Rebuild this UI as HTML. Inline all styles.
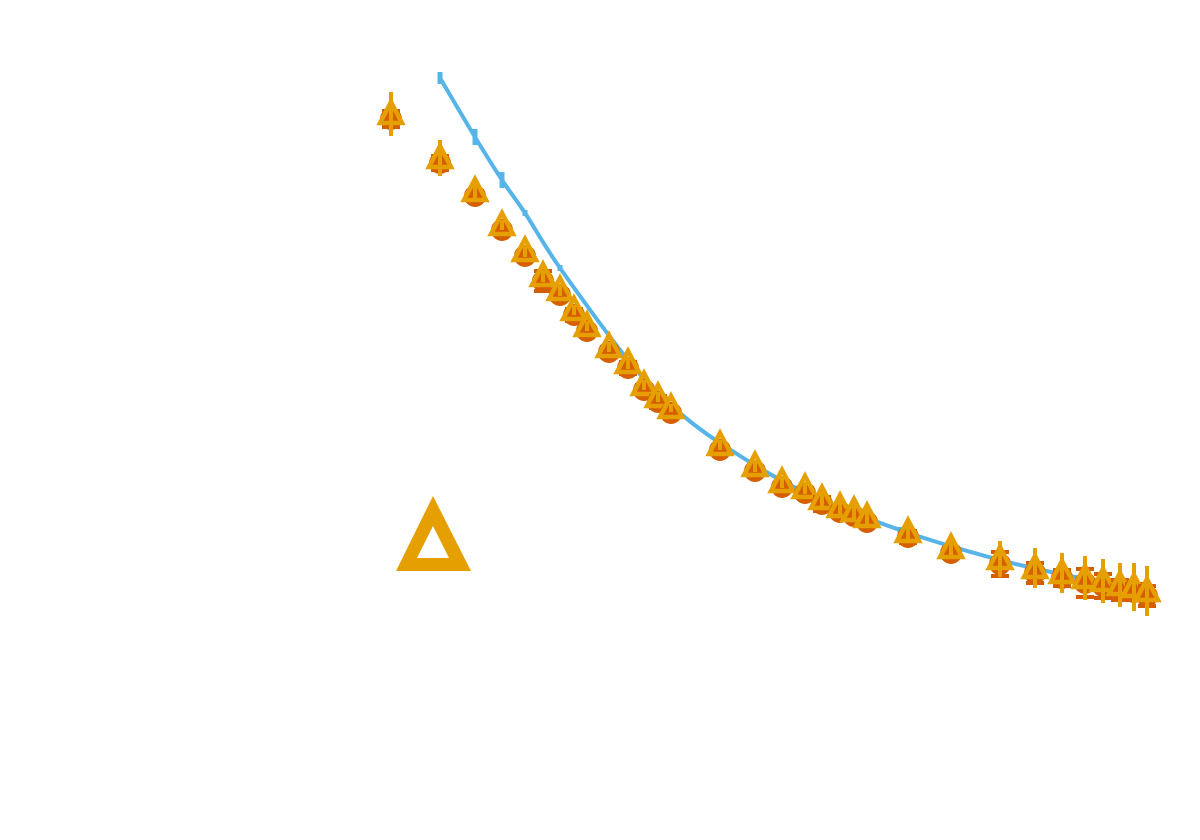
<!DOCTYPE html>
<html><head><meta charset="utf-8"><style>html,body{margin:0;padding:0;background:#fff;width:1200px;height:840px;overflow:hidden}</style></head>
<body>
<svg id="chart" width="1200" height="840" xmlns="http://www.w3.org/2000/svg">
<path fill="#e69f00" fill-rule="evenodd" d="M433,496 L471,571 L396,571 Z M433,526 L449,558 L417,558 Z"/>
</svg>
<script>
const xVals = [0,49,84,111,134,152,169,183,196,218,237,253,267,280,329,364,391,414,431,449,463,476,517,560,609,644,671,694,712,729,743,756];
const circleVals = [521,477,444,410,384,359,345,325,309,288,272,250,238,227,190,169,153,147,136,128,124,118,103,87,76,67,62,57,54,50,48,44];
const circleErr = [8,7,5,3,4,10,5,6,4,5,6,5,6,4,3,3,3,5,7,5,4,4,6,5,12,10,8,14,12,10,8,10];
const triErr = [22,18,8,5,6,6,6,5,5,5,6,5,5,4,5,6,6,6,8,9,8,7,7,10,18,20,20,22,22,22,24,25];
const lineX = [49,84,111,134,169,237,280,329,409,509,609,689,759];
const lineVals = [562,503,460,427,372,280,235,197,150,110,80,62,50];
const lineErr = [6,8,8,3,3,3,3,3,3,3,3,3,3];

const xs = v => 391 + v;
const ys = v => 640 - v;
const svg = document.getElementById('chart');
const NS = 'http://www.w3.org/2000/svg';
function mk(tag, attrs){const e=document.createElementNS(NS,tag);for(const k in attrs)e.setAttribute(k,attrs[k]);svg.appendChild(e);return e;}

// blue line (Catmull-Rom smoothed)
const P = lineX.map((x,i)=>[xs(x), ys(lineVals[i])]);
let d = 'M'+P[0][0]+','+P[0][1];
for(let i=0;i<P.length-1;i++){
  const p0=P[Math.max(i-1,0)], p1=P[i], p2=P[i+1], p3=P[Math.min(i+2,P.length-1)];
  const c1=[p1[0]+(p2[0]-p0[0])/6, p1[1]+(p2[1]-p0[1])/6];
  const c2=[p2[0]-(p3[0]-p1[0])/6, p2[1]-(p3[1]-p1[1])/6];
  d += ` C${c1[0]},${c1[1]} ${c2[0]},${c2[1]} ${p2[0]},${p2[1]}`;
}
const ln = mk('path',{d:d,fill:'none',stroke:'#56b4e9','stroke-width':4});


lineX.forEach((x,i)=>{
  const e = mk('line',{x1:xs(x),x2:xs(x),y1:ys(lineVals[i]+lineErr[i]),y2:ys(lineVals[i]-lineErr[i]),stroke:'#56b4e9','stroke-width':5});
  
  
});

xVals.forEach((x,i)=>{
  const cx = xs(x), cy = ys(circleVals[i]);
  const c = mk('circle',{cx:cx,cy:cy,r:11,fill:'#d55e00'});
  
  
  const ce = mk('path',{d:`M${cx},${cy-circleErr[i]}V${cy+circleErr[i]}M${cx-9},${cy-circleErr[i]}h18M${cx-9},${cy+circleErr[i]}h18`,stroke:'#d55e00','stroke-width':4,fill:'none'});
  
  
  const ty = cy - 5;
  const t = mk('path',{d:`M${cx},${ty-12} L${cx+11},${ty+9} L${cx-11},${ty+9} Z`,fill:'none',stroke:'#e69f00','stroke-width':4.5,'stroke-linejoin':'miter'});
  
  
  const te = mk('line',{x1:cx,x2:cx,y1:ty-triErr[i],y2:ty+triErr[i],stroke:'#e69f00','stroke-width':4});
  
  
});
</script>
</body></html>
